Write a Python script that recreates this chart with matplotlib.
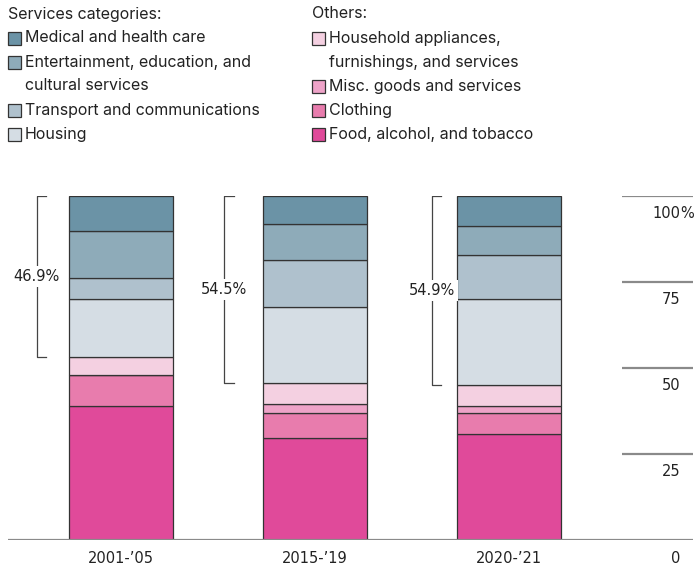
import numpy as np
import matplotlib.pyplot as plt
from matplotlib.patches import Rectangle

# shares of household spending, % (bottom to top of each bar)
periods = ["2001-\u201905", "2015-\u201919", "2020-\u201921"]
food = [38.8, 29.7, 30.9]
clothing = [9.0, 7.1, 6.0]
misc = [0.0, 2.6, 2.1]
household = [5.3, 6.1, 6.1]
housing = [16.9, 22.2, 25.0]
transport = [6.1, 13.6, 12.7]
entertainment = [13.8, 10.6, 8.4]
medical = [10.1, 8.1, 8.8]
services_share = ["46.9%", "54.5%", "54.9%"]
yticks = [0, 25, 50, 75, 100]

layers = [food, clothing, misc, household, housing, transport, entertainment, medical]
colors = ["#e04a9a", "#e87cad", "#eea3c8", "#f4d0e1",
          "#d5dde4", "#afc1cd", "#8eabb9", "#6b93a6"]

plt.rcParams['font.family'] = ['Inter', 'DejaVu Sans']
txt = "#222222"
num_font = dict(fontsize=10.5, color=txt, fontfamily="DejaVu Sans")

fig = plt.figure(figsize=(6.95, 5.67), dpi=100)
ax = fig.add_axes([0, 0.0476, 1, 0.6072])
ax.set_xlim(-0.623, 2.961)
ax.set_ylim(0, 100)
ax.axis("off")

x = np.arange(len(periods))
bottom = np.zeros(len(periods))
for vals, c in zip(layers, colors):
    v = np.array(vals)
    ax.bar(x, v, bottom=bottom, width=0.535, color=c, edgecolor="#333333",
           linewidth=0.9, zorder=3)
    bottom += v

# brackets around the services block
others_top = np.array(food) + np.array(clothing) + np.array(misc) + np.array(household)
bracket_x = [-0.434, 0.534, 1.603]
for bx, lo, lab in zip(bracket_x, others_top, services_share):
    ax.plot([bx + 0.049, bx, bx, bx + 0.049], [100, 100, lo, lo],
            color="#444444", lw=0.9, zorder=2)
    ax.text(bx, (100 + lo) / 2, lab, ha="center", va="center",
            bbox=dict(facecolor="white", edgecolor="none", pad=2), zorder=4,
            **num_font)

# right-hand scale
ax.hlines(0, -0.582, 2.953, color="#8a8a8a", lw=1.6, zorder=4)
ax.hlines(yticks[1:], 2.583, 2.953, color="#8a8a8a", lw=1.6)
for t in yticks:
    ax.annotate(str(t), (2.884, t), xytext=(0, -13), textcoords="offset points",
                ha="right", va="center", **num_font)
ax.annotate("%", (2.884, 100), xytext=(0, -13), textcoords="offset points",
            ha="left", va="center", **num_font)

for xi, p in zip(x, periods):
    ax.annotate(p, (xi, 0), xytext=(0, -13), textcoords="offset points",
                ha="center", va="center", **num_font)

# legend, drawn by hand in pixel space
W, H = 695, 567
def legend_col(x0, title, entries):
    fig.text(x0 / W, 1 - 14 / H, title, ha="left", va="center", fontsize=11.5, color=txt)
    y = 38
    for lines, c in entries:
        fig.patches.append(Rectangle((x0 / W, 1 - (y + 6.5) / H), 13 / W, 13 / H,
                                     transform=fig.transFigure, facecolor=c,
                                     edgecolor="#333333", lw=0.9))
        for ln in lines:
            fig.text((x0 + 17) / W, 1 - y / H, ln, ha="left", va="center",
                     fontsize=11.5, color=txt)
            y += 24

legend_col(8, "Services categories:", [
    (["Medical and health care"], colors[7]),
    (["Entertainment, education, and", "cultural services"], colors[6]),
    (["Transport and communications"], colors[5]),
    (["Housing"], colors[4]),
])
legend_col(312, "Others:", [
    (["Household appliances,", "furnishings, and services"], colors[3]),
    (["Misc. goods and services"], colors[2]),
    (["Clothing"], colors[1]),
    (["Food, alcohol, and tobacco"], colors[0]),
])

fig.savefig("out.png", dpi=100)
